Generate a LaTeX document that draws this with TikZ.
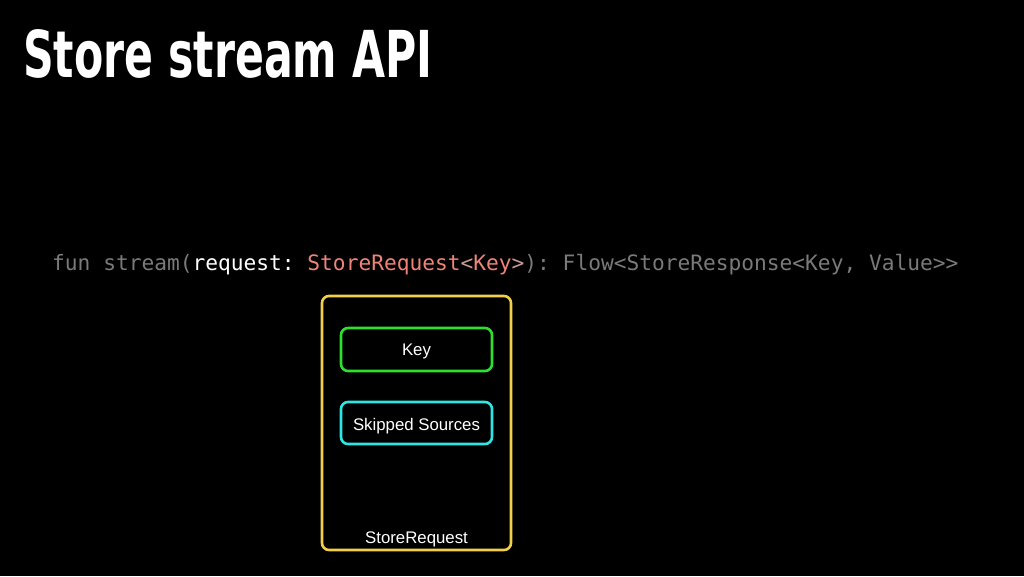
\documentclass[tikz,border=0pt]{standalone}
\usepackage{fontspec}
\setmainfont{Liberation Sans}
\newfontfamily\titlefont{DejaVu Sans}
\newfontfamily\codefont{DejaVu Sans Mono}
\newfontfamily\labelfont{Liberation Sans}
\definecolor{codegray}{HTML}{7A7A7A}
\definecolor{codesalmon}{HTML}{EE8478}
\definecolor{codepink}{HTML}{C89A96}
\definecolor{boxyellow}{HTML}{F2CE4A}
\definecolor{boxgreen}{HTML}{2EE02E}
\definecolor{boxcyan}{HTML}{2CE6E6}
\tikzset{
  box/.style={draw, line width=2.6pt, rounded corners=7pt, inner sep=0pt},
  lbl/.style={text=white, font=\labelfont\fontsize{16.8}{20}\selectfont, inner sep=0pt, anchor=base},
}
\begin{document}
\frenchspacing
\begin{tikzpicture}[x=1pt,y=-1pt]
\fill[black] (0,0) rectangle (1024,576);
\useasboundingbox (0,0) rectangle (1024,576);
% title
\node[anchor=south west, inner sep=0pt, text=white] (title) at (23,79)
  {\resizebox{409pt}{48pt}{\titlefont\bfseries Store stream API}};
% code line
\node[anchor=base west, inner sep=0pt, font=\codefont\fontsize{21.2}{24}\selectfont] (code) at (52,270)
  {\textcolor{codegray}{fun stream(}\textcolor{white}{request: }\textcolor{codesalmon}{StoreRequest}\textcolor{codepink}{<}\textcolor{codesalmon}{Key}\textcolor{codepink}{>}\textcolor{codegray}{): Flow<StoreResponse<Key, Value>{}>}};
% boxes
\draw[box, boxyellow] (322,296) rectangle (511,550);
\node[box, boxgreen, minimum width=151pt, minimum height=43pt] (key) at (416.5,349.5) {};
\node[lbl] (keyl) at (416.5,355) {Key};
\node[box, boxcyan, minimum width=151pt, minimum height=42pt] (skip) at (416.5,423) {};
\node[lbl] (skipl) at (416.5,430) {Skipped Sources};
\node[lbl] (sr) at (416.5,543) {StoreRequest};
\end{tikzpicture}
\end{document}
